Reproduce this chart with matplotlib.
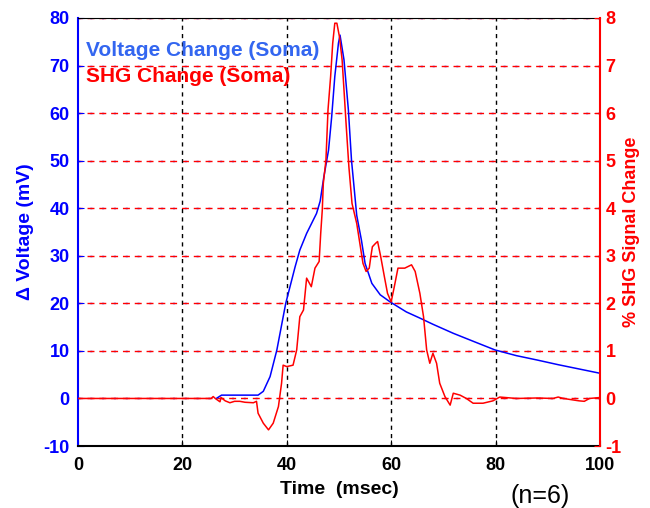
import matplotlib
matplotlib.use('Agg')
import matplotlib.pyplot as plt
import numpy as np

plt.rcParams['font.family'] = ['Liberation Sans', 'DejaVu Sans']
plt.rcParams['axes.unicode_minus'] = False

# ======= somatic voltage (mV) =======
volt_t = [26.5, 27.5, 30, 32, 34.5, 35.5, 36.8, 38.1, 39.8, 41.6, 42.5, 43.8, 45.7, 46.4,
          47.1, 48.0, 48.6, 49.2, 49.9, 50.2, 50.96, 51.8, 52.4, 53.4, 54.3, 55.0, 56.3,
          57.9, 59.8, 62.9, 65.5, 68, 71.9, 76, 79.9, 84, 87.9, 92, 96, 100]
volt_v = [0, 0.7, 0.7, 0.7, 0.7, 1.5, 4.6, 10.2, 20, 27.7, 31.2, 34.7, 38.9, 41.5,
          46.6, 52.2, 59.2, 67.7, 74.7, 76.4, 71.2, 60.7, 50.1, 38.5, 33.3, 28.4, 24.2,
          21.8, 20.3, 18.2, 16.9, 15.6, 13.7, 11.9, 10.2, 9.0, 8.1, 7.1, 6.2, 5.3]

# ======= SHG signal change (%) =======
shg_t = [0, 25.5, 25.9, 26.3, 27.2, 27.4, 28.2, 29.1, 30, 31, 32, 33.6, 34.2, 34.5, 35.5,
         36.5, 37.4, 38.4, 39.0, 39.3, 40.0, 41.2, 41.9, 42.2, 42.5, 43.2, 43.8, 44.7, 45.4,
         46.2, 46.5, 46.8, 47.0, 47.5, 47.9, 48.4, 48.8, 49.2, 49.6, 50.1, 50.6, 51.0, 51.4,
         51.9, 52.5, 53.4, 54.2, 54.6, 55.2, 55.8, 56.1, 56.4, 57.0, 57.4, 58.0, 58.7, 59.3,
         60.0, 60.6, 61.3, 62.6, 63.9, 64.6, 65.5, 66.2, 66.8, 67.4, 68.0, 68.7, 69.3, 70.3,
         71.3, 71.9, 73.2, 74.4, 75.7, 77.6, 79.5, 80.8, 84, 88, 91, 92, 93, 96, 97, 98, 100]
shg_v = [0, 0, 0.04, 0.0, -0.07, 0.02, -0.05, -0.09, -0.06, -0.06, -0.08, -0.09, -0.06, -0.31,
         -0.52, -0.66, -0.52, -0.17, 0.32, 0.70, 0.67, 0.70, 1.02, 1.37, 1.72, 1.86, 2.53, 2.35,
         2.74, 2.88, 3.47, 3.96, 4.52, 5.01, 6.07, 6.77, 7.47, 7.89, 7.89, 7.60, 7.12, 6.42,
         5.71, 4.87, 4.10, 3.68, 3.12, 2.84, 2.67, 2.74, 2.98, 3.19, 3.26, 3.30, 2.98, 2.56,
         2.21, 2.03, 2.35, 2.74, 2.74, 2.81, 2.67, 2.21, 1.72, 1.02, 0.74, 0.95, 0.74, 0.32,
         0.04, -0.14, 0.11, 0.07, 0.0, -0.10, -0.10, -0.05, 0.03, 0.0, 0.01, 0.0, 0.03, 0.0,
         -0.05, -0.06, 0.0, 0.02]

volt_ticks = np.arange(-10, 81, 10)
shg_ticks = np.arange(-1, 9, 1)
time_ticks = np.arange(0, 101, 20)

BLUE = '#0000ff'
RED = '#ff0000'
fs = 13

fig = plt.figure(figsize=(6.5, 5.08), dpi=100)
ax = fig.add_axes([0.12, 0.122, 0.803, 0.8426])
ax.set_xlim(0, 100)
ax.set_ylim(-10, 80)

# horizontal grid: blue + red dashes on top of each other
for v in volt_ticks:
    ax.axhline(v, color=BLUE, lw=1, ls=(0, (1.5, 7)), zorder=0.5)
    ax.axhline(v, color=RED, lw=1, ls=(2, (5, 3.5)), zorder=0.6)
for t in time_ticks[1:-1]:
    ax.axvline(t, color='k', lw=1, ls=(0, (3, 3)), zorder=0.6)

ax.plot(volt_t, volt_v, color=BLUE, lw=1.1, zorder=2)

ax.set_xticks(time_ticks)
ax.set_yticks(volt_ticks)
ax.tick_params(axis='y', colors=BLUE, direction='in', length=4, labelsize=fs, pad=6)
ax.tick_params(axis='x', colors='k', direction='in', length=4, labelsize=fs, pad=8)
for lab in ax.get_xticklabels() + ax.get_yticklabels():
    lab.set_fontweight('bold')

ax.spines['left'].set_color(BLUE)
ax.spines['left'].set_linewidth(1.5)
ax.spines['bottom'].set_linewidth(1.5)
ax.spines['top'].set_linewidth(0.8)
ax.spines['right'].set_visible(False)

ax.set_xlabel('Time  (msec)', fontsize=14, fontweight='bold', labelpad=5)
ax.set_ylabel('\u0394 Voltage (mV)', fontsize=14, fontweight='bold', color=BLUE, labelpad=7)

ax2 = ax.twinx()
ax2.set_ylim(-1, 8)
ax2.set_yticks(shg_ticks)
ax2.plot(shg_t, shg_v, color=RED, lw=1.1, zorder=3)
ax2.tick_params(axis='y', colors=RED, direction='in', length=4, labelsize=fs, pad=4)
for lab in ax2.get_yticklabels():
    lab.set_fontweight('bold')
ax2.spines['right'].set_color(RED)
ax2.spines['right'].set_linewidth(1.5)
for s in ['left', 'top', 'bottom']:
    ax2.spines[s].set_visible(False)
ax2.set_ylabel('% SHG Signal Change', fontsize=13, fontweight='bold', color=RED, labelpad=1)

# legend text
ax.text(1.6, 73.1, 'Voltage Change (Soma)', color='#3366f0', fontsize=15,
        fontweight='bold', va='center', ha='left', zorder=4)
ax.text(1.6, 67.6, 'SHG Change (Soma)', color=RED, fontsize=15,
        fontweight='bold', va='center', ha='left', zorder=4)

fig.text(0.831, 0.024, '(n=6)', fontsize=18, ha='center', va='center')

fig.savefig('out.png', dpi=100)
